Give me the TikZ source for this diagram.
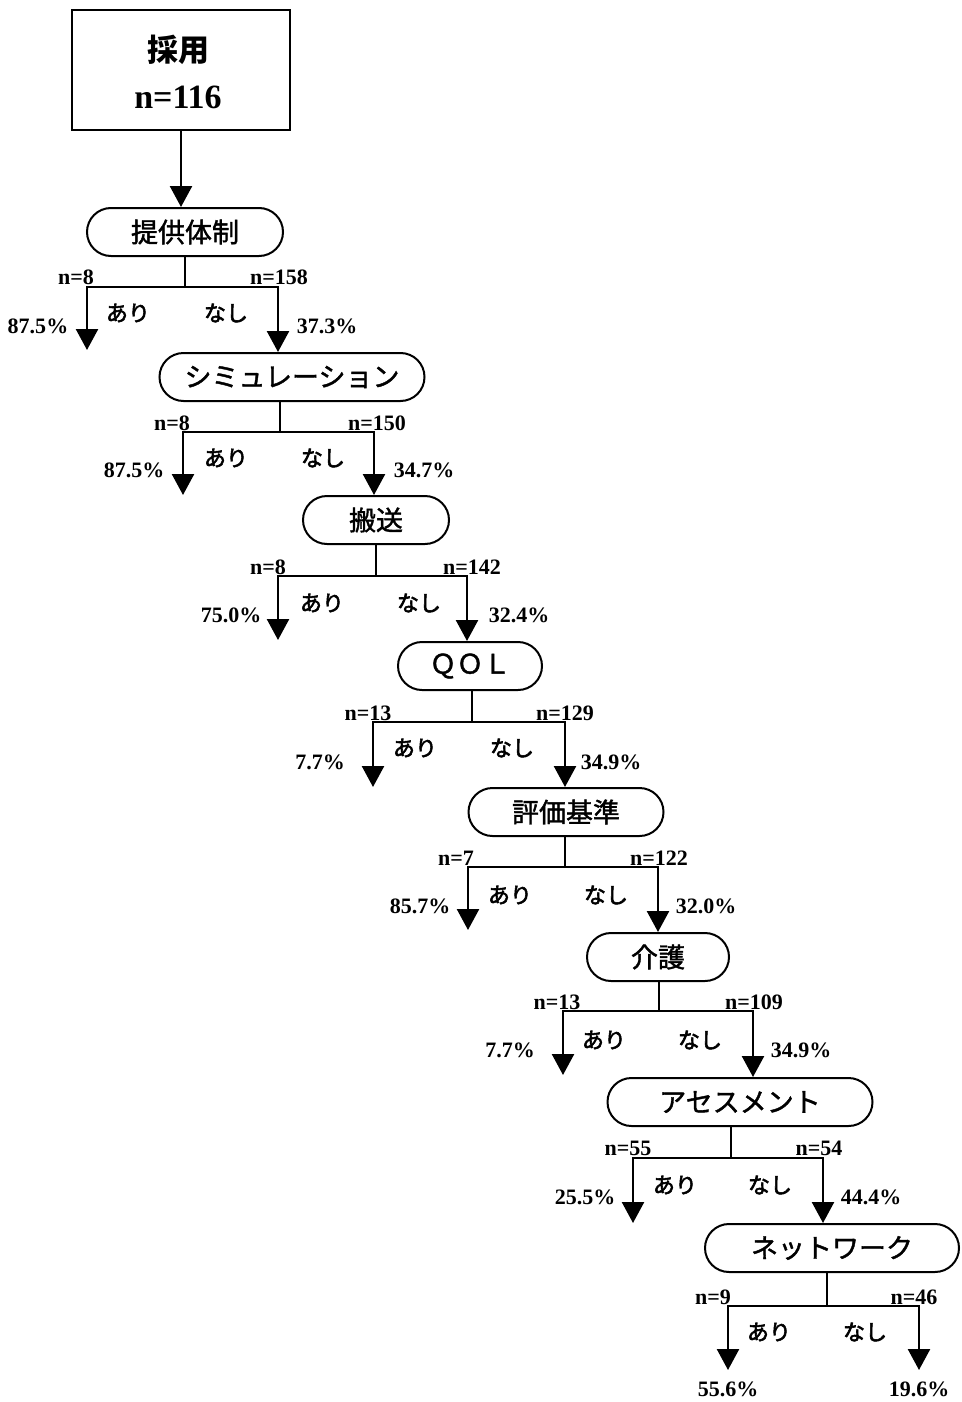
\documentclass[tikz,border=0pt]{standalone}
\usepackage{fontspec}
\setmainfont{Liberation Serif}
\newfontfamily\jp{Noto Sans CJK JP}
\newfontfamily\jpm[FakeBold=1.5]{Noto Sans CJK JP}
\newfontfamily\jpb[FakeBold=2.5]{Noto Sans CJK JP}
\usetikzlibrary{arrows.meta,shapes.misc}
\newcommand\lvl[8]{% id, parent, stem x, bar y, left x, right x, left tip y, right target
  \coordinate (s#1) at (#3,#4);
  \coordinate (bl#1) at (#5,#4);
  \coordinate (br#1) at (#6,#4);
  \coordinate (tl#1) at (#5,#7);
  \draw[ln] (s#1 |- #2.south) -- (s#1);
  \draw[arr2] (tl#1) -- (bl#1) -- (br#1) -- (br#1 |- #8);
}
\begin{document}
\begin{tikzpicture}[x=1pt,y=-1pt,
  ln/.style={line width=2.5pt},
  arr/.style={line width=2.5pt,-{Triangle[width=22pt,length=21pt]}},
  arr2/.style={line width=2.5pt,{Triangle[width=22pt,length=21pt]}-{Triangle[width=22pt,length=21pt]}},
  dec/.style={draw,rounded rectangle,line width=2pt,minimum height=48pt,inner sep=0pt,font=\jpm\fontsize{27}{30}\selectfont},
  lab/.style={inner sep=0pt,font=\bfseries\fontsize{22}{24}\selectfont},
  yn/.style={inner sep=0pt,font=\jpb\fontsize{22}{24}\selectfont}]
\useasboundingbox (0,0) rectangle (961,1402);
% top box
\node[draw,line width=2pt,minimum width=218pt,minimum height=120pt,inner sep=0pt] (top) at (181,70) {};
\node[inner sep=0pt,font=\jp\bfseries\fontsize{31}{34}\selectfont] (topa) at (178,50) {採用};
\node[inner sep=0pt,font=\bfseries\fontsize{34}{38}\selectfont] (topb) at (178,97) {n=116};
% decision nodes
\node[dec,minimum width=196pt] (n1) at (185,232) {提供体制};
\node[dec,minimum width=265pt] (n2) at (292,377) {シミュレーション};
\node[dec,minimum width=146pt] (n3) at (376,520) {搬送};
\node[dec,minimum width=144pt] (n4) at (470,666) {ＱＯＬ};
\node[dec,minimum width=195pt] (n5) at (566,812) {評価基準};
\node[dec,minimum width=142pt] (n6) at (658,957) {介護};
\node[dec,minimum width=265pt] (n7) at (740,1102) {アセスメント};
\node[dec,minimum width=254pt] (n8) at (832,1248) {ネットワーク};
\coordinate (tr8) at (919,1370);
\draw[arr] (top.south) -- (top.south |- n1.north);
% branches
\lvl{1}{n1}{185}{287}{87}{278}{350}{n2.north}
\lvl{2}{n2}{280}{432}{183}{374}{495}{n3.north}
\lvl{3}{n3}{376}{576}{278}{467}{640}{n4.north}
\lvl{4}{n4}{472}{722}{373}{565}{787}{n5.north}
\lvl{5}{n5}{565}{867}{468}{658}{930}{n6.north}
\lvl{6}{n6}{659}{1011}{563}{753}{1075}{n7.north}
\lvl{7}{n7}{731}{1158}{633}{823}{1223}{n8.north}
\lvl{8}{n8}{827}{1306}{728}{919}{1370}{tr8}
% level 1 labels
\node[lab] (a1) at (76,277) {n=8};
\node[lab] (b1) at (279,277) {n=158};
\node[yn] (c1) at (128,313) {あり};
\node[yn] (d1) at (226,313) {なし};
\node[lab] (e1) at (38,326) {87.5\%};
\node[lab] (f1) at (327,326) {37.3\%};
% level 2
\node[lab] (a2) at (172,423) {n=8};
\node[lab] (b2) at (377,423) {n=150};
\node[yn] (c2) at (226,458) {あり};
\node[yn] (d2) at (323,458) {なし};
\node[lab] (e2) at (134,470) {87.5\%};
\node[lab] (f2) at (424,470) {34.7\%};
% level 3
\node[lab] (a3) at (268,567) {n=8};
\node[lab] (b3) at (472,567) {n=142};
\node[yn] (c3) at (322,603) {あり};
\node[yn] (d3) at (419,603) {なし};
\node[lab] (e3) at (231,615) {75.0\%};
\node[lab] (f3) at (519,615) {32.4\%};
% level 4
\node[lab] (a4) at (368,713) {n=13};
\node[lab] (b4) at (565,713) {n=129};
\node[yn] (c4) at (415,748) {あり};
\node[yn] (d4) at (512,748) {なし};
\node[lab] (e4) at (320,762) {7.7\%};
\node[lab] (f4) at (611,762) {34.9\%};
% level 5
\node[lab] (a5) at (456,858) {n=7};
\node[lab] (b5) at (659,858) {n=122};
\node[yn] (c5) at (510,895) {あり};
\node[yn] (d5) at (606,895) {なし};
\node[lab] (e5) at (420,906) {85.7\%};
\node[lab] (f5) at (706,906) {32.0\%};
% level 6
\node[lab] (a6) at (557,1002) {n=13};
\node[lab] (b6) at (754,1002) {n=109};
\node[yn] (c6) at (604,1040) {あり};
\node[yn] (d6) at (700,1040) {なし};
\node[lab] (e6) at (510,1050) {7.7\%};
\node[lab] (f6) at (801,1050) {34.9\%};
% level 7
\node[lab] (a7) at (628,1148) {n=55};
\node[lab] (b7) at (819,1148) {n=54};
\node[yn] (c7) at (675,1185) {あり};
\node[yn] (d7) at (770,1185) {なし};
\node[lab] (e7) at (585,1197) {25.5\%};
\node[lab] (f7) at (871,1197) {44.4\%};
% level 8
\node[lab] (a8) at (713,1297) {n=9};
\node[lab] (b8) at (914,1297) {n=46};
\node[yn] (c8) at (769,1332) {あり};
\node[yn] (d8) at (865,1332) {なし};
\node[lab] (e8) at (728,1389) {55.6\%};
\node[lab] (f8) at (919,1389) {19.6\%};
\end{tikzpicture}
\end{document}
